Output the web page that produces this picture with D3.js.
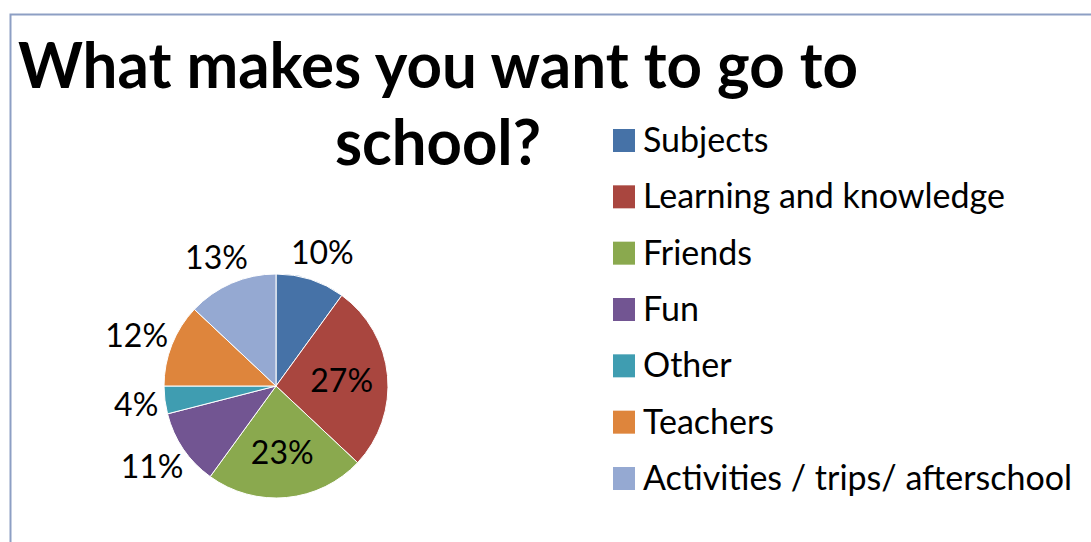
<!DOCTYPE html>
<html>
<head>
<meta charset="utf-8">
<script src="https://cdn.jsdelivr.net/npm/d3@7/dist/d3.min.js"></script>
<style>
  html, body { margin: 0; padding: 0; background: #fff; }
  svg { display: block; }
  text { font-family: Lato, "Open Sans", sans-serif; fill: #000; }
</style>
</head>
<body>
<div id="chart"></div>
<script>
// Survey answers: what makes pupils want to go to school (percent of responses)
const categories = ["Subjects", "Learning and knowledge", "Friends", "Fun", "Other", "Teachers", "Activities / trips/ afterschool"];
const values = [10, 27, 23, 11, 4, 12, 13];
const colors = ["#4672a7", "#a9463f", "#8aa94e", "#725592", "#3f9db1", "#de853c", "#95a9d2"];
const titleLines = ["What makes you want to go to", "school?"];

const W = 1091, H = 542;
const svg = d3.select("#chart").append("svg").attr("width", W).attr("height", H);
svg.append("rect").attr("width", W).attr("height", H).attr("fill", "#fff");

// chart area frame (top and left edges visible)
svg.append("path")
  .attr("d", `M10.5,${H} V14.5 H${W}`)
  .attr("fill", "none").attr("stroke", "#8d9fc4").attr("stroke-width", 2);

// title
const title = svg.append("g");
title.append("text").attr("x", 18).attr("y", 88)
  .attr("font-size", 64).attr("font-weight", 700)
  .attr("textLength", 840).attr("lengthAdjust", "spacingAndGlyphs")
  .text(titleLines[0]);
title.append("text").attr("x", 335).attr("y", 165)
  .attr("font-size", 64).attr("font-weight", 700)
  .attr("textLength", 206).attr("lengthAdjust", "spacingAndGlyphs")
  .text(titleLines[1]);

// pie
const cx = 276, cy = 386, R = 112;
const data = categories.map((c, i) => ({ name: c, value: values[i], color: colors[i] }));
const pie = d3.pie().value(d => d.value).sort(null);
const arcs = pie(data);
const arc = d3.arc().innerRadius(0).outerRadius(R);

const g = svg.append("g").attr("transform", `translate(${cx},${cy})`);
g.selectAll("path.slice").data(arcs).enter().append("path")
  .attr("class", "slice")
  .attr("d", arc)
  .attr("fill", d => d.data.color)
  .attr("stroke", "#fff").attr("stroke-width", 1);

// data labels: large slices inside, small slices outside the rim
const inner = d3.arc().innerRadius(66).outerRadius(66);
const rim = d3.arc().innerRadius(R + 11).outerRadius(R + 11);
const labelSize = 32;
arcs.forEach(d => {
  const label = d.data.value + "%";
  const mid = (d.startAngle + d.endAngle) / 2;
  let x, y;
  if (d.data.value >= 20) {
    [x, y] = inner.centroid(d);
  } else {
    const [ax, ay] = rim.centroid(d);
    const hw = label.length * labelSize * 0.28, hh = 18;
    x = ax + Math.sin(mid) * hw;
    y = ay - Math.cos(mid) * hh;
  }
  g.append("text")
    .attr("x", x).attr("y", y)
    .attr("text-anchor", "middle").attr("dominant-baseline", "central")
    .attr("font-size", labelSize)
    .text(label);
});

// legend
const legend = svg.append("g").attr("transform", "translate(613,0)");
const rowY = d3.scalePoint().domain(categories).range([152, 490]);
const rows = legend.selectAll("g.row").data(data).enter().append("g")
  .attr("class", "row")
  .attr("transform", d => `translate(0,${rowY(d.name)})`);
rows.append("rect").attr("x", 0).attr("y", -23).attr("width", 22).attr("height", 23)
  .attr("fill", d => d.color);
rows.append("text").attr("x", 30).attr("y", 0)
  .attr("font-size", 34)
  .text(d => d.name);
</script>
</body>
</html>
